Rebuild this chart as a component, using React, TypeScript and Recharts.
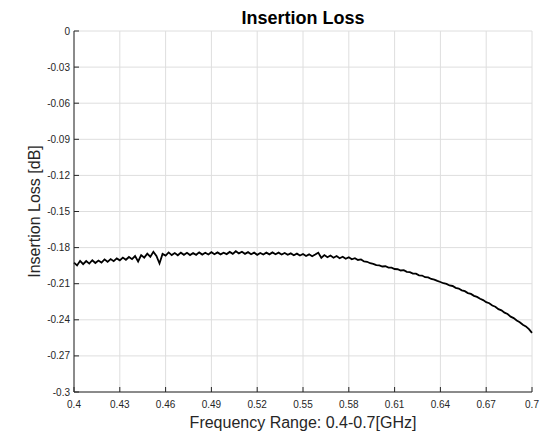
import { LineChart, Line, XAxis, YAxis, CartesianGrid } from 'recharts';

// sampled frequency points (GHz)
const FREQ_GHZ = [
  0.400, 0.402, 0.404, 0.406, 0.408, 0.410, 0.412, 0.414, 0.416, 0.418,
  0.420, 0.422, 0.424, 0.426, 0.428, 0.430, 0.432, 0.434, 0.436, 0.438,
  0.440, 0.442, 0.444, 0.446, 0.448, 0.450, 0.452, 0.454, 0.456, 0.458,
  0.460, 0.462, 0.464, 0.466, 0.468, 0.470, 0.472, 0.474, 0.476, 0.478,
  0.480, 0.482, 0.484, 0.486, 0.488, 0.490, 0.492, 0.494, 0.496, 0.498,
  0.500, 0.502, 0.504, 0.506, 0.508, 0.510, 0.512, 0.514, 0.516, 0.518,
  0.520, 0.522, 0.524, 0.526, 0.528, 0.530, 0.532, 0.534, 0.536, 0.538,
  0.540, 0.542, 0.544, 0.546, 0.548, 0.550, 0.552, 0.554, 0.556, 0.558,
  0.560, 0.562, 0.564, 0.566, 0.568, 0.570, 0.572, 0.574, 0.576, 0.578,
  0.580, 0.582, 0.584, 0.586, 0.588, 0.590, 0.592, 0.594, 0.596, 0.598,
  0.600, 0.602, 0.604, 0.606, 0.608, 0.610, 0.612, 0.614, 0.616, 0.618,
  0.620, 0.622, 0.624, 0.626, 0.628, 0.630, 0.632, 0.634, 0.636, 0.638,
  0.640, 0.642, 0.644, 0.646, 0.648, 0.650, 0.652, 0.654, 0.656, 0.658,
  0.660, 0.662, 0.664, 0.666, 0.668, 0.670, 0.672, 0.674, 0.676, 0.678,
  0.680, 0.682, 0.684, 0.686, 0.688, 0.690, 0.692, 0.694, 0.696, 0.698,
  0.700,
];

// measured insertion loss (dB)
const LOSS_DB = [
  -0.1925, -0.1948, -0.1910, -0.1938, -0.1912, -0.1933, -0.1905, -0.1928, -0.1908, -0.1924,
  -0.1898, -0.1918, -0.1895, -0.1913, -0.1890, -0.1906, -0.1883, -0.1901, -0.1878, -0.1896,
  -0.1870, -0.1915, -0.1862, -0.1883, -0.1850, -0.1876, -0.1835, -0.1870, -0.1932, -0.1852,
  -0.1866, -0.1840, -0.1862, -0.1845, -0.1864, -0.1842, -0.1860, -0.1843, -0.1862, -0.1846,
  -0.1860, -0.1840, -0.1858, -0.1843, -0.1857, -0.1838, -0.1855, -0.1840, -0.1856, -0.1842,
  -0.1854, -0.1836, -0.1852, -0.1830, -0.1848, -0.1835, -0.1852, -0.1838, -0.1855, -0.1842,
  -0.1860, -0.1845, -0.1858, -0.1842, -0.1856, -0.1840, -0.1855, -0.1842, -0.1858, -0.1845,
  -0.1860, -0.1848, -0.1863, -0.1850, -0.1866, -0.1853, -0.1870, -0.1856, -0.1872, -0.1858,
  -0.1842, -0.1885, -0.1862, -0.1880, -0.1866, -0.1884, -0.1870, -0.1888, -0.1876, -0.1893,
  -0.1880, -0.1897, -0.1888, -0.1903, -0.1898, -0.1915, -0.1918, -0.1930, -0.1935, -0.1946,
  -0.1948, -0.1957, -0.1955, -0.1966, -0.1966, -0.1978, -0.1980, -0.1990, -0.1988, -0.2001,
  -0.2004, -0.2016, -0.2016, -0.2030, -0.2032, -0.2046, -0.2048, -0.2061, -0.2066, -0.2077,
  -0.2086, -0.2096, -0.2102, -0.2115, -0.2119, -0.2134, -0.2140, -0.2155, -0.2162, -0.2178,
  -0.2185, -0.2201, -0.2210, -0.2225, -0.2236, -0.2254, -0.2262, -0.2281, -0.2291, -0.2311,
  -0.2321, -0.2341, -0.2352, -0.2374, -0.2386, -0.2406, -0.2420, -0.2441, -0.2455, -0.2478,
  -0.2508,
];

const X_TICKS = [0.4, 0.43, 0.46, 0.49, 0.52, 0.55, 0.58, 0.61, 0.64, 0.67, 0.7];
const Y_TICKS = [0, -0.03, -0.06, -0.09, -0.12, -0.15, -0.18, -0.21, -0.24, -0.27, -0.3];

const data = FREQ_GHZ.map((f, i) => ({ freq: f, loss: LOSS_DB[i] }));

const FONT = '"Liberation Sans", Arial, Helvetica, sans-serif';
const AXIS_COLOR = '#262626';
const tickStyle = { fontSize: 10, fill: AXIS_COLOR, fontFamily: FONT };
const fmtY = (v: number) => (v === 0 ? '0' : String(v));

export default function App() {
  return (
    <div style={{ position: 'absolute', left: 0, top: 0, width: 540, height: 438, background: '#fff' }}>
      <LineChart width={540} height={438} data={data} margin={{ top: 31, right: 8, left: 0, bottom: 0 }}>
        <CartesianGrid stroke="#dedede" strokeWidth={1} />
        <XAxis
          dataKey="freq"
          type="number"
          domain={[0.4, 0.7]}
          ticks={X_TICKS}
          height={46}
          tick={tickStyle}
          tickSize={-5}
          tickMargin={14}
          stroke={AXIS_COLOR}
          interval={0}
          label={{ value: 'Frequency Range: 0.4-0.7[GHz]', position: 'insideBottom', offset: 10, fontSize: 16, fill: AXIS_COLOR, fontFamily: FONT }}
        />
        <XAxis
          xAxisId="top"
          orientation="top"
          dataKey="freq"
          type="number"
          domain={[0.4, 0.7]}
          ticks={X_TICKS}
          height={0}
          tick={false}
          tickSize={-5}
          stroke={AXIS_COLOR}
        />
        <YAxis
          type="number"
          domain={[-0.3, 0]}
          ticks={Y_TICKS}
          width={74}
          tick={tickStyle}
          tickSize={-5}
          tickMargin={9}
          tickFormatter={fmtY}
          stroke={AXIS_COLOR}
          interval={0}
          label={{ value: 'Insertion Loss [dB]', angle: -90, position: 'center', dx: -3, fontSize: 16, fill: AXIS_COLOR, fontFamily: FONT }}
        />
        <YAxis
          yAxisId="right"
          orientation="right"
          type="number"
          domain={[-0.3, 0]}
          ticks={Y_TICKS}
          width={0}
          tick={false}
          tickSize={-5}
          stroke={AXIS_COLOR}
        />
        <Line
          type="linear"
          dataKey="loss"
          stroke="#000"
          strokeWidth={1.8}
          dot={false}
          isAnimationActive={false}
        />
      </LineChart>
      <svg width={540} height={31} style={{ position: 'absolute', left: 0, top: 0 }}>
        <text x={303} y={23.5} textAnchor="middle" fontFamily={FONT} fontWeight="bold" fontSize={18} fill="#000">
          Insertion Loss
        </text>
      </svg>
    </div>
  );
}
